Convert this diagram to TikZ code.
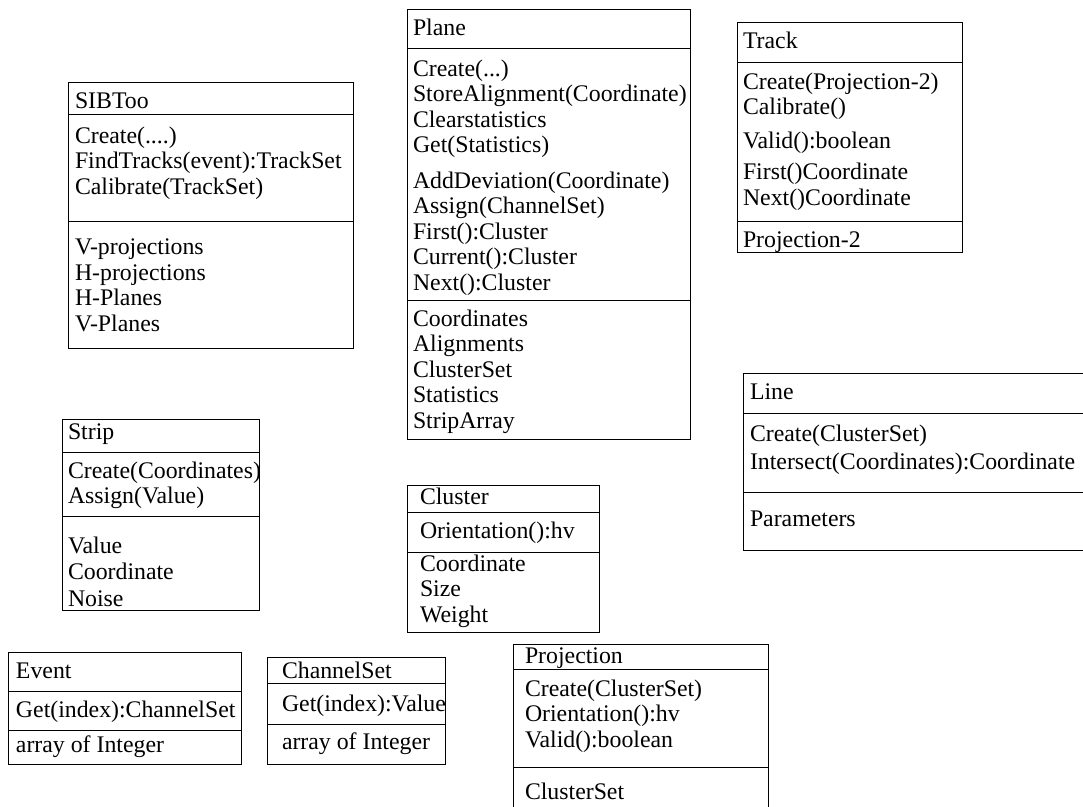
\documentclass[tikz,border=0pt]{standalone}
\usepackage{fontspec}
\setmainfont{Liberation Serif}
\usetikzlibrary{positioning}

\begin{document}
\begin{tikzpicture}[
    x=1pt, y=-1pt,
    every node/.style={inner sep=0pt, outer sep=0pt},
    box/.style={draw, line width=0.9pt, anchor=north west},
    sep/.style={line width=0.9pt},
    txt/.style={anchor=base west, align=left, font=\fontsize{23.8}{25.5}\selectfont}
  ]
  \useasboundingbox (0,0) rectangle (1083,806);

  % SIBToo
  \node[box, minimum width=285pt, minimum height=266pt] (sibtoo) at (68,82) {};
  \draw[sep] (sibtoo.west |- 0,114) -- (sibtoo.east |- 0,114);
  \draw[sep] (sibtoo.west |- 0,221) -- (sibtoo.east |- 0,221);
  \node[txt] (sibtoo-name) at (75,108) {SIBToo};
  \node[txt] (sibtoo-ops) at (75,194) {Create(....)\\FindTracks(event):TrackSet\\Calibrate(TrackSet)};
  \node[txt] (sibtoo-attr) at (75,331) {V-projections\\H-projections\\H-Planes\\V-Planes};

  % Plane
  \node[box, minimum width=283pt, minimum height=430pt] (plane) at (407,9) {};
  \draw[sep] (plane.west |- 0,48) -- (plane.east |- 0,48);
  \draw[sep] (plane.west |- 0,300) -- (plane.east |- 0,300);
  \node[txt] (plane-name) at (413,35) {Plane};
  \node[txt] (plane-ops) at (413,152.5) {Create(...)\\StoreAlignment(Coordinate)\\Clearstatistics\\Get(Statistics)};
  \node[txt] (plane-iter) at (413,290) {AddDeviation(Coordinate)\\Assign(ChannelSet)\\First():Cluster\\Current():Cluster\\Next():Cluster};
  \node[txt] (plane-attr) at (413,428) {Coordinates\\Alignments\\ClusterSet\\Statistics\\StripArray};

  % Track
  \node[box, minimum width=225pt, minimum height=230pt] (track) at (737,22) {};
  \draw[sep] (track.west |- 0,62) -- (track.east |- 0,62);
  \draw[sep] (track.west |- 0,221) -- (track.east |- 0,221);
  \node[txt] (track-name) at (743,48) {Track};
  \node[txt] (track-ops) at (743,114.5) {Create(Projection-2)\\Calibrate()};
  \node[txt] (track-valid) at (743,148) {Valid():boolean};
  \node[txt] (track-iter) at (743,205) {First()Coordinate\\Next()Coordinate};
  \node[txt] (track-attr) at (743,247) {Projection-2};

  % Strip
  \node[box, minimum width=197pt, minimum height=191pt] (strip) at (62,419) {};
  \draw[sep] (strip.west |- 0,452) -- (strip.east |- 0,452);
  \draw[sep] (strip.west |- 0,516) -- (strip.east |- 0,516);
  \node[txt] (strip-name) at (68,439) {Strip};
  \node[txt] (strip-ops) at (68,503.5) {Create(Coordinates)\\Assign(Value)};
  \node[txt] (strip-attr) at (68,606) {Value\\[1pt]Coordinate\\[1pt]Noise};

  % Cluster
  \node[box, minimum width=192pt, minimum height=147pt] (cluster) at (407,485) {};
  \draw[sep] (cluster.west |- 0,512) -- (cluster.east |- 0,512);
  \draw[sep] (cluster.west |- 0,552) -- (cluster.east |- 0,552);
  \node[txt] (cluster-name) at (420,504) {Cluster};
  \node[txt] (cluster-ops) at (420,538) {Orientation():hv};
  \node[txt] (cluster-attr) at (420,622) {Coordinate\\Size\\Weight};

  % Line
  \node[box, minimum width=347pt, minimum height=177pt] (line) at (743,373) {};
  \draw[sep] (line.west |- 0,413) -- (line.east |- 0,413);
  \draw[sep] (line.west |- 0,492) -- (line.east |- 0,492);
  \node[txt] (line-name) at (750,399) {Line};
  \node[txt] (line-ops) at (750,469) {Create(ClusterSet)\\[2.5pt]Intersect(Coordinates):Coordinate};
  \node[txt] (line-attr) at (750,526) {Parameters};

  % Event
  \node[box, minimum width=233pt, minimum height=112pt] (event) at (8,652) {};
  \draw[sep] (event.west |- 0,691) -- (event.east |- 0,691);
  \draw[sep] (event.west |- 0,730) -- (event.east |- 0,730);
  \node[txt] (event-name) at (16,678) {Event};
  \node[txt] (event-ops) at (16,717) {Get(index):ChannelSet};
  \node[txt] (event-attr) at (16,752) {array of Integer};

  % ChannelSet
  \node[box, minimum width=178pt, minimum height=107pt] (chset) at (267,657) {};
  \draw[sep] (chset.west |- 0,683) -- (chset.east |- 0,683);
  \draw[sep] (chset.west |- 0,724) -- (chset.east |- 0,724);
  \node[txt] (chset-name) at (282,678) {ChannelSet};
  \node[txt] (chset-ops) at (282,711) {Get(index):Value};
  \node[txt] (chset-attr) at (282,749) {array of Integer};

  % Projection (runs off the bottom edge)
  \node[box, minimum width=255pt, minimum height=171pt] (proj) at (513,644) {};
  \draw[sep] (proj.west |- 0,669) -- (proj.east |- 0,669);
  \draw[sep] (proj.west |- 0,767) -- (proj.east |- 0,767);
  \node[txt] (proj-name) at (525,663) {Projection};
  \node[txt] (proj-ops) at (525,747) {Create(ClusterSet)\\Orientation():hv\\Valid():boolean};
  \node[txt] (proj-attr) at (525,799) {ClusterSet};
\end{tikzpicture}
\end{document}
